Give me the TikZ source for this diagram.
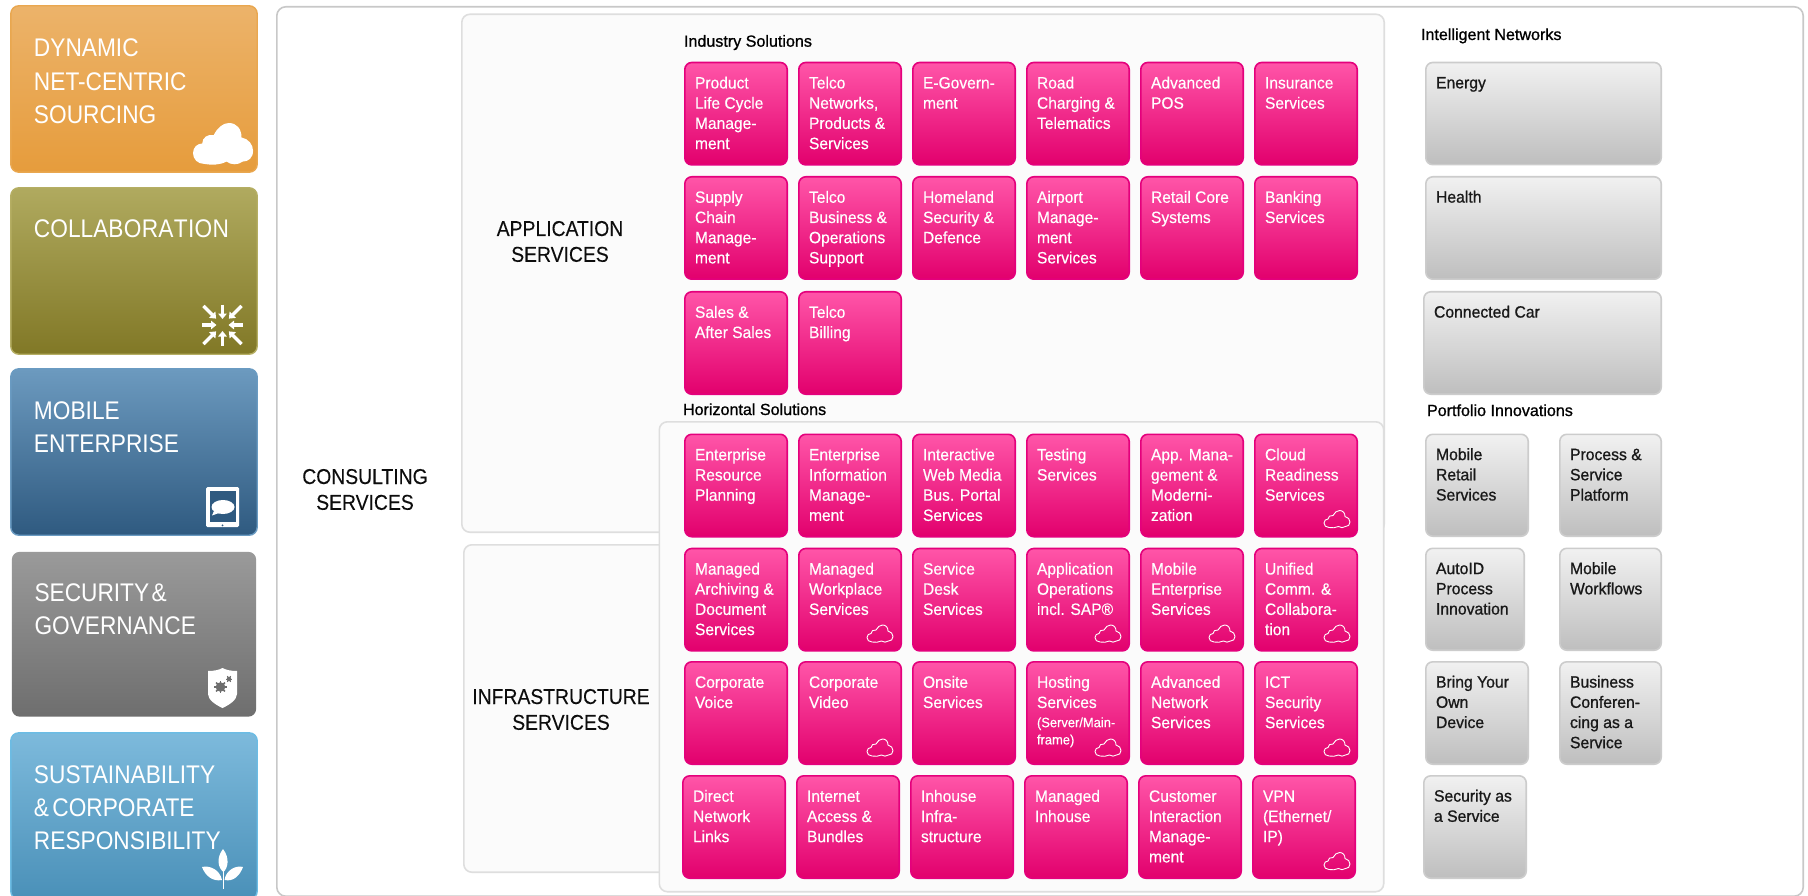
\documentclass[tikz,border=0pt]{standalone}
\usepackage{fontspec}
\setmainfont[FakeStretch=0.95,FakeBold=0.35]{Liberation Sans}
\newfontfamily\bigf[FakeStretch=0.89]{Liberation Sans}
\newfontfamily\svcf[FakeStretch=0.9,FakeBold=0.1]{Liberation Sans}
\newfontfamily\medf[FakeStretch=0.96,FakeBold=0.9]{Liberation Sans}
\newfontfamily\headf[FakeStretch=1.0,FakeBold=0.9]{Liberation Sans}
\usetikzlibrary{arrows.meta}
\definecolor{pinkT}{HTML}{FF55A8}\definecolor{pinkB}{HTML}{E2006D}\definecolor{pinkL}{HTML}{E4007C}
\definecolor{grayT}{HTML}{F1F1F1}\definecolor{grayB}{HTML}{BEBEBE}\definecolor{grayL}{HTML}{CCCCCC}
\definecolor{frameL}{HTML}{C8C8C8}\definecolor{panelL}{HTML}{DEDEDE}\definecolor{panelF}{HTML}{FBFBFB}
\definecolor{orT}{HTML}{ECB36A}\definecolor{orB}{HTML}{E69C3C}\definecolor{orL}{HTML}{E9A74F}
\definecolor{olT}{HTML}{B0AA5F}\definecolor{olB}{HTML}{817826}\definecolor{olL}{HTML}{B5AE63}
\definecolor{blT}{HTML}{6C9ABF}\definecolor{blB}{HTML}{2F5A80}\definecolor{blL}{HTML}{6A9BC2}
\definecolor{grT}{HTML}{9A9A9A}\definecolor{grB}{HTML}{6E6E6E}
\definecolor{lbT}{HTML}{7DBADC}\definecolor{lbB}{HTML}{4A90B8}\definecolor{lbL}{HTML}{6CBCE4}
\tikzset{
  x=1pt,y=-1pt,
  cardbase/.style={rectangle,anchor=north west,inner sep=0pt,outer sep=0pt},
  pinkcard/.style={cardbase,draw=pinkL,line width=1.6pt,rounded corners=7pt,top color=pinkT,bottom color=pinkB},
  graycard/.style={cardbase,draw=grayL,line width=1.6pt,rounded corners=7pt,top color=grayT,bottom color=grayB},
  tilecard/.style={cardbase,line width=1.4pt,rounded corners=8pt},
  panel/.style={cardbase,draw=panelL,fill=panelF,line width=1.6pt,rounded corners=8pt},
  outerframe/.style={cardbase,draw=frameL,fill=white,line width=1.6pt,rounded corners=9pt},
  txt/.style={anchor=north west,inner sep=0pt,outer sep=0pt,align=left},
  pinktxt/.style={txt,text=white,font=\fontsize{16.4}{20.2}\selectfont},
  graytxt/.style={txt,text=black!90,font=\medf\fontsize{16.4}{20.2}\selectfont},
  headtxt/.style={txt,text=black,font=\headf\fontsize{16.1}{20}\selectfont},
  tiletxt/.style={txt,text=white,font=\bigf\fontsize{25.5}{33.4}\selectfont},
  svctxt/.style={txt,anchor=north,align=center,text=black!95,font=\svcf\fontsize{21.5}{25.8}\selectfont},
  cloudline/.style={draw=white,line width=0.9pt},
}
% #1 style #2 name #3 x1 #4 y1 #5 x2 #6 y2 (outer edges, stroke inclusive)
\newcommand\boxn[7][]{%
  \pgfmathsetmacro\bw{#6-#4-1.6}\pgfmathsetmacro\bh{#7-#5-1.6}%
  \pgfmathsetmacro\bx{#4+.8}\pgfmathsetmacro\by{#5+.8}%
  \node[#2,#1,minimum width=\bw pt,minimum height=\bh pt] (#3) at (\bx,\by) {};}
% style name x baseline ascent text
\newcommand\lab[6]{%
  \pgfmathsetmacro\ly{#4-#5}%
  \node[#1] (#2) at (#3,\ly) {\rule{0pt}{#5pt}#6};}
\newcommand\pinkc[4]{%
  \pgfmathsetmacro\xb{#2+104}\pgfmathsetmacro\yb{#3+104}%
  \boxn{pinkcard}{#1}{#2}{#3}{\xb}{\yb}%
  \pgfmathsetmacro\xt{#2+11}\pgfmathsetmacro\yt{#3+26.8}%
  \lab{pinktxt}{#1-t}{\xt}{\yt}{13}{#4}}
\newcommand\grayc[6]{%
  \boxn{graycard}{#1}{#2}{#3}{#4}{#5}%
  \pgfmathsetmacro\xt{#2+11}\pgfmathsetmacro\yt{#3+26.6}%
  \lab{graytxt}{#1-t}{\xt}{\yt}{13}{#6}}
\newcommand\cloudpath{(5,17) .. controls (2,17) and (0,15) .. (0,12.5) .. controls (0,10) and (2,8.5) .. (4,8.5) .. controls (4,6) and (6.5,4.5) .. (9,5) .. controls (10.5,2) and (13,0) .. (15.5,0) .. controls (19,0) and (21,2.5) .. (21,6) .. controls (24,6.5) and (26,9) .. (26,11.5) .. controls (26,14.5) and (24,16) .. (21.5,16) .. controls (19.5,17.5) and (16.5,17.5) .. (14.5,16) .. controls (11.5,17.5) and (8,17.5) .. (5,17) -- cycle}
\newcommand\smallcloud[2]{\begin{scope}[shift={(#1,#2)}]\path[cloudline] \cloudpath;\end{scope}}
\newcommand\sm{\fontsize{13.6}{17}\selectfont}
\begin{document}
\begin{tikzpicture}
\path[use as bounding box,fill=white] (0,0) rectangle (1808,896);
\clip (0,0) rectangle (1808,896);
% left tiles
\boxn[top color=orT,bottom color=orB,draw=orL]{tilecard}{t1}{10}{5}{258}{173}
\boxn[top color=olT,bottom color=olB,draw=olL]{tilecard}{t2}{10}{187}{258}{355}
\boxn[top color=blT,bottom color=blB,draw=blL]{tilecard}{t3}{10}{368}{258}{536}
\boxn[top color=grT,bottom color=grB,draw=none]{tilecard}{t4}{11}{551}{257}{717.5}
\boxn[top color=lbT,bottom color=lbB,draw=lbL]{tilecard}{t5}{10}{732}{258}{900}
\lab{tiletxt}{t1-t}{34}{57}{20}{DYNAMIC\\NET-CENTRIC\\SOURCING}
\lab{tiletxt}{t2-t}{34}{238}{20}{COLLAB\kern.3pt O\kern.3pt R\kern.3pt A\kern.3pt T\kern.3pt I\kern.3pt O\kern.3pt N}
\lab{tiletxt}{t3-t}{34}{419}{20}{MOBILE\\ENTERPRISE}
\lab{tiletxt}{t4-t}{34.5}{601}{20}{SECURITY\kern-4pt\ \&\\GOVERNANCE}
\lab{tiletxt}{t5-t}{34}{783}{20}{SUSTAINABILITY\\\&\kern-3pt\ CORPORATE\\RESPONSIBILITY}
% tile icons
\begin{scope}[shift={(193,123)},xscale=2.31,yscale=2.41]
\path[fill=white] \cloudpath;
\end{scope}
\foreach \a in {0,90,180,270}{
  \draw[white,line width=3.2pt,-{Triangle[width=8.5pt,length=5.5pt]}] (222.5,325)++(\a:20.5) -- ++(\a+180:14.5);}
\foreach \a in {45,135,225,315}{
  \draw[white,line width=3.2pt,-{Triangle[width=8.5pt,length=5.5pt]}] (222.5,325)++(\a:27) -- ++(\a+180:18);}
\fill[white,rounded corners=1.5pt] (206,487) rectangle (239,527);
\fill[blB] (210,491) rectangle (235.5,522);
\fill[blB] (222.5,525.3) circle (1pt);
\fill[white] (223,507) ellipse (11.5pt and 7pt);
\fill[white] (214,511) -- (212,515.5) -- (219,513) -- cycle;
\fill[white] (208,671) .. controls (214,671) and (219,670) .. (222.5,668) .. controls (226,670) and (231,671) .. (237,671) -- (237,694) .. controls (237,700) and (229,705) .. (222.5,708) .. controls (216,705) and (208,700) .. (208,694) -- cycle;
\fill[grB] (220.5,687) circle (4.8pt);
\foreach \a in {0,45,...,315}{\draw[grB,line width=1.5pt] (220.5,687)++(\a:3) -- ++(\a:3.2);}
\fill[grB] (229,679) circle (2.3pt);
\foreach \a in {0,60,...,300}{\draw[grB,line width=1pt] (229,679)++(\a:1.5) -- ++(\a:1.8);}
\fill[white] (223,849) .. controls (230,858) and (228,868) .. (223.5,872) .. controls (218,868) and (216,858) .. (223,849) -- cycle;
\fill[white] (202,867) .. controls (210,865) and (220,870) .. (222,880) .. controls (212,882) and (205,875) .. (202,867) -- cycle;
\fill[white] (243,867) .. controls (236,865) and (226,870) .. (224.5,880) .. controls (234,882) and (240,875) .. (243,867) -- cycle;
\draw[white,line width=1.6pt] (223.5,870) -- (223.5,889);
% frames
\boxn{outerframe}{main}{276}{6}{1804}{897}
\boxn{panel}{app}{461}{13.5}{1385}{533}
\boxn{panel}{infra}{463}{544}{700}{873}
\boxn{panel}{horiz}{658.5}{421}{1384.5}{892.5}
\lab{svctxt}{consult}{365}{484}{17}{CONSULTING\\SERVICES}
\lab{svctxt}{appl}{560}{236}{17}{APPLICATION\\SERVICES}
\lab{svctxt}{infr}{561}{704}{17}{INFRASTRUCTURE\\SERVICES}
\lab{headtxt}{h1}{684}{46.7}{13}{Industry Solutions}
\lab{headtxt}{h2}{683}{415}{13}{Horizontal Solutions}
\lab{headtxt}{h3}{1421}{40}{13}{Intelligent Networks}
\lab{headtxt}{h4}{1427}{416}{13}{Portfolio Innovations}
% industry solutions
\pinkc{a1}{684}{61.7}{Product\\Life Cycle\\Manage-\\ment}
\pinkc{a2}{798}{61.7}{Telco\\Networks,\\Products \&\\Services}
\pinkc{a3}{912}{61.7}{E-Govern-\\ment}
\pinkc{a4}{1026}{61.7}{Road\\Charging \&\\Telematics}
\pinkc{a5}{1140}{61.7}{Advanced\\POS}
\pinkc{a6}{1254}{61.7}{Insurance\\Services}
\pinkc{b1}{684}{176}{Supply\\Chain\\Manage-\\ment}
\pinkc{b2}{798}{176}{Telco\\Business \&\\Operations\\Support}
\pinkc{b3}{912}{176}{Homeland\\Security \&\\Defence}
\pinkc{b4}{1026}{176}{Airport\\Manage-\\ment\\Services}
\pinkc{b5}{1140}{176}{Retail Core\\Systems}
\pinkc{b6}{1254}{176}{Banking\\Services}
\pinkc{c1}{684}{291}{Sales \&\\After Sales}
\pinkc{c2}{798}{291}{Telco\\Billing}
% horizontal solutions
\pinkc{d1}{684}{433.5}{Enterprise\\Resource\\Planning}
\pinkc{d2}{798}{433.5}{Enterprise\\Information\\Manage-\\ment}
\pinkc{d3}{912}{433.5}{Interactive\\Web Media\\Bus. Portal\\Services}
\pinkc{d4}{1026}{433.5}{Testing\\Services}
\pinkc{d5}{1140}{433.5}{App. Mana-\\gement \&\\Moderni-\\zation}
\pinkc{d6}{1254}{433.5}{Cloud\\Readiness\\Services}
\pinkc{e1}{684}{547.7}{Managed\\Archiving \&\\Document\\Services}
\pinkc{e2}{798}{547.7}{Managed\\Workplace\\Services}
\pinkc{e3}{912}{547.7}{Service\\Desk\\Services}
\pinkc{e4}{1026}{547.7}{Application\\Operations\\incl. SAP®}
\pinkc{e5}{1140}{547.7}{Mobile\\Enterprise\\Services}
\pinkc{e6}{1254}{547.7}{Unified\\Comm. \&\\Collabora-\\tion}
\pinkc{f1}{684}{661}{Corporate\\Voice}
\pinkc{f2}{798}{661}{Corporate\\Video}
\pinkc{f3}{912}{661}{Onsite\\Services}
\pinkc{f4}{1026}{661}{Hosting\\Services\\[-1pt]\sm (Server/Main-\\[-3pt]\sm frame)}
\pinkc{f5}{1140}{661}{Advanced\\Network\\Services}
\pinkc{f6}{1254}{661}{ICT\\Security\\Services}
\pinkc{g1}{682}{775}{Direct\\Network\\Links}
\pinkc{g2}{796}{775}{Internet\\Access \&\\Bundles}
\pinkc{g3}{910}{775}{Inhouse\\Infra-\\structure}
\pinkc{g4}{1024}{775}{Managed\\Inhouse}
\pinkc{g5}{1138}{775}{Customer\\Interaction\\Manage-\\ment}
\pinkc{g6}{1252}{775}{VPN\\(Ethernet/\\IP)}
% clouds
\smallcloud{1324}{510.5}
\smallcloud{867}{625}\smallcloud{1095}{625}\smallcloud{1209}{625}\smallcloud{1324}{625}
\smallcloud{867}{739}\smallcloud{1095}{739}\smallcloud{1324}{739}
\smallcloud{1324}{852.5}
% gray cards
\grayc{n1}{1425}{61.7}{1662}{165.5}{Energy}
\grayc{n2}{1425}{176}{1662}{280}{Health}
\grayc{n3}{1423}{291}{1662}{395}{Connected Car}
\grayc{p1}{1425}{433.5}{1529}{537}{Mobile\\Retail\\Services}
\grayc{p2}{1559}{433.5}{1662}{537}{Process \&\\Service\\Platform}
\grayc{p3}{1425}{547.5}{1525}{651}{AutoID\\Process\\Innovation}
\grayc{p4}{1559}{547.5}{1662}{651}{Mobile\\Workflows}
\grayc{p5}{1425}{661}{1529}{765}{Bring Your\\Own\\Device}
\grayc{p6}{1559}{661}{1662}{765}{Business\\Conferen-\\cing as a\\Service}
\grayc{p7}{1423}{775}{1527}{879}{Security as\\a Service}
\end{tikzpicture}
\end{document}
